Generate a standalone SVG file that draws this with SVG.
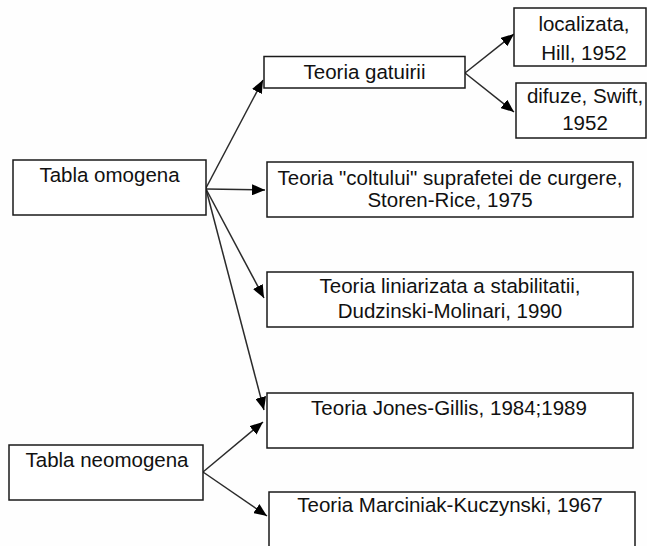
<svg xmlns="http://www.w3.org/2000/svg" width="647" height="546" viewBox="0 0 647 546">
<style>
.box{fill:#fff;stroke:#1a1a1a;stroke-width:1.5}
.t{font-family:"Liberation Sans",Arial,sans-serif;font-size:20.5px;fill:#111;text-anchor:middle}
.c{stroke:#2a2a2a;stroke-width:1.5;fill:none;marker-end:url(#ah)}
</style>
<defs>
<marker id="ah" markerUnits="userSpaceOnUse" markerWidth="13" markerHeight="11" refX="13" refY="5.5" orient="auto">
<path d="M0,0 L13,5.5 L0,11 z" fill="#000"/>
</marker>
</defs>
<rect width="647" height="546" fill="#fefefe"/>
<g id="connectors">
<line class="c" x1="206" y1="188" x2="263" y2="80"/>
<line class="c" x1="206" y1="189" x2="265" y2="190"/>
<line class="c" x1="206" y1="189" x2="264" y2="298"/>
<line class="c" x1="206" y1="189" x2="264" y2="410"/>
<line class="c" x1="203" y1="472" x2="263" y2="422"/>
<line class="c" x1="203" y1="472" x2="267" y2="516"/>
<line class="c" x1="465" y1="73" x2="514" y2="34"/>
<line class="c" x1="465" y1="73" x2="514" y2="112"/>
</g>
<g id="tabla-omogena">
<rect class="box" x="13" y="160" width="193" height="55"/>
<text class="t" x="109.5" y="182">Tabla omogena</text>
</g>
<g id="teoria-gatuirii">
<rect class="box" x="264" y="56.5" width="201" height="31.5"/>
<text class="t" x="364.5" y="79">Teoria gatuirii</text>
</g>
<g id="localizata">
<rect class="box" x="514" y="8" width="132" height="58"/>
<text class="t" x="584" y="31">localizata,</text>
<text class="t" x="584" y="60">Hill, 1952</text>
</g>
<g id="difuze">
<rect class="box" x="516" y="83" width="130" height="55"/>
<text class="t" x="585" y="103">difuze, Swift,</text>
<text class="t" x="585" y="130">1952</text>
</g>
<g id="teoria-coltului">
<rect class="box" x="267" y="162" width="366" height="55"/>
<text class="t" x="450" y="185">Teoria "coltului" suprafetei de curgere,</text>
<text class="t" x="450" y="207">Storen-Rice, 1975</text>
</g>
<g id="teoria-liniarizata">
<rect class="box" x="267" y="272" width="366" height="55"/>
<text class="t" x="450" y="293">Teoria liniarizata a stabilitatii,</text>
<text class="t" x="450" y="318">Dudzinski-Molinari, 1990</text>
</g>
<g id="teoria-jones-gillis">
<rect class="box" x="267" y="393" width="366" height="55"/>
<text class="t" x="449" y="415">Teoria Jones-Gillis, 1984;1989</text>
</g>
<g id="tabla-neomogena">
<rect class="box" x="9" y="445" width="194" height="55"/>
<text class="t" x="107" y="467">Tabla neomogena</text>
</g>
<g id="teoria-marciniak">
<rect class="box" x="269" y="492" width="366" height="60"/>
<text class="t" x="450" y="512">Teoria Marciniak-Kuczynski, 1967</text>
</g>
</svg>
